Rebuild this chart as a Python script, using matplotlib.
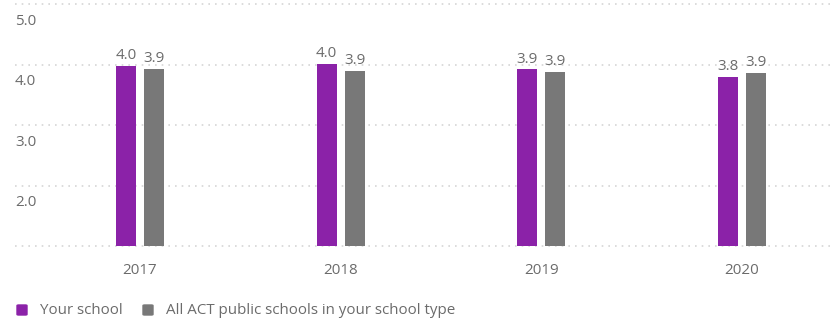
import numpy as np
import matplotlib.pyplot as plt
from matplotlib.patches import FancyBboxPatch

plt.rcParams['font.family'] = ['Open Sans', 'DejaVu Sans']

years = ['2017', '2018', '2019', '2020']
your_school = [3.98, 4.01, 3.92, 3.79]
all_act = [3.93, 3.89, 3.88, 3.86]
series_names = ['Your school', 'All ACT public schools in your school type']

purple = '#8b22a8'
grey = '#787878'
text_col = '#6b6b6b'
fs = 10.9

fig = plt.figure(figsize=(8.3, 3.25), dpi=100)
ax = fig.add_axes([15 / 830, 1 - 246 / 325, 815 / 830, 242 / 325])

x = np.arange(len(years))
bw = 0.1
off = 0.07
b1 = ax.bar(x - off, [v - 1 for v in your_school], bw, bottom=1, color=purple, zorder=3)
b2 = ax.bar(x + off, [v - 1 for v in all_act], bw, bottom=1, color=grey, zorder=3)

# value labels above each bar
for bars, vals in ((b1, your_school), (b2, all_act)):
    for rect, v in zip(bars, vals):
        ax.annotate(f'{v:.1f}', (rect.get_x() + rect.get_width() / 2, v),
                    xytext=(0, 2), textcoords='offset points',
                    ha='center', va='bottom', fontsize=fs, color=text_col)

ax.set_xlim(-0.623, 3.438)
ax.set_ylim(1, 5)

# dotted gridlines with the tick labels sitting just under each line
for g in [1, 2, 3, 4, 5]:
    ax.axhline(g, color='#d6d6d6', lw=1.2, ls=(0, (1, 3)), zorder=1, clip_on=False)
for g in [2, 3, 4, 5]:
    ax.annotate(f'{g:.1f}', (-0.623, g), xytext=(0, -12.5), textcoords='offset points',
                ha='left', va='center', fontsize=fs, color=text_col)

for s in ax.spines.values():
    s.set_visible(False)
ax.set_yticks([])
ax.set_xticks(x)
ax.set_xticklabels(years, fontsize=fs, color=text_col)
ax.tick_params(axis='x', length=0, pad=12)

# legend along the bottom
ly = 1 - 310 / 325
for px, col in ((17, purple), (143, grey)):
    fig.patches.append(FancyBboxPatch((px / 830, ly - 5 / 325), 10 / 830, 10 / 325,
                                      boxstyle='round,pad=0,rounding_size=0.002',
                                      transform=fig.transFigure, color=col))
fig.text(40 / 830, ly, series_names[0], color=text_col, fontsize=fs, va='center')
fig.text(166 / 830, ly, series_names[1], color=text_col, fontsize=fs, va='center')

fig.savefig('out.png', dpi=100)
